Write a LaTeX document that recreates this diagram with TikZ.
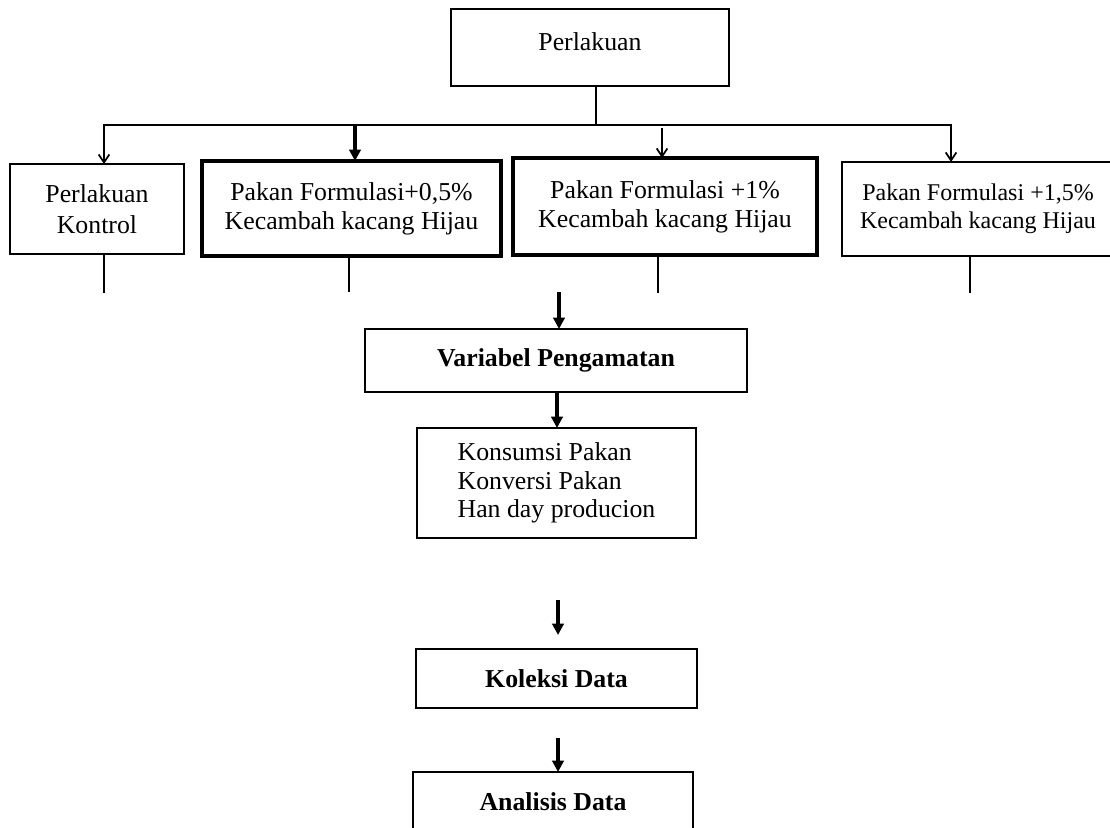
\documentclass[tikz,border=0pt]{standalone}
\usepackage{fontspec}
\setmainfont{Liberation Serif}
\usetikzlibrary{arrows.meta}
\tikzset{
  boxn/.style={draw, line width=1.4pt, inner sep=0pt, outer sep=0pt, align=center,
    font=\fontsize{19.35pt}{22pt}\selectfont},
  boldbox/.style={boxn, line width=3pt},
  conn/.style={line width=1.3pt},
  thinhead/.tip={Straight Barb[length=6pt,width=8pt,line width=1.3pt]},
  thinarrow/.style={conn, -thinhead},
  thickarrow/.style={line width=2.4pt, -{Triangle[length=8.5pt,width=8.5pt]}},
}
\begin{document}
\begin{tikzpicture}[x=0.75pt,y=-0.75pt]
  \fill[white] (0,0) rectangle (1110,828);
  \clip (0,0) rectangle (1110,828);

  % boxes
  \node[boxn, minimum width=208.5pt, minimum height=57.75pt, text height=13.5pt, text depth=9.75pt] (top) at (590,47.5) {Perlakuan};
  \node[boxn, minimum width=130.5pt, minimum height=67.5pt, font=\fontsize{19.35pt}{23pt}\selectfont] (b1) at (97,209) {Perlakuan\\Kontrol};
  \node[boldbox, minimum width=224.25pt, minimum height=71.25pt] (b2) at (351.5,208.5) {Pakan Formulasi+0,5\%\\Kecambah kacang Hijau};
  \node[boldbox, minimum width=228pt, minimum height=72.75pt] (b3) at (665,206.5) {Pakan Formulasi +1\%\\Kecambah kacang Hijau};
  \node[boxn, minimum width=204pt, minimum height=70.5pt, font=\fontsize{18pt}{21pt}\selectfont] (b4) at (978,209) {Pakan Formulasi +1,5\%\\Kecambah kacang Hijau};
  \node[boxn, minimum width=286.5pt, minimum height=47.25pt] (vp) at (556,360.5) {\textbf{Variabel Pengamatan}};
  \node[boxn, align=left, minimum width=209.25pt, minimum height=82.5pt, font=\fontsize{19.35pt}{21.3pt}\selectfont] (lst) at (556.5,483) {Konsumsi Pakan\\Konversi Pakan\\Han day producion};
  \node[boxn, minimum width=210.75pt, minimum height=44.25pt] (kol) at (556.5,678.5) {\textbf{Koleksi Data}};
  \node[boxn, minimum width=210pt, minimum height=44.25pt] (ana) at (553,801.5) {\textbf{Analisis Data}};

  % junction coordinates
  \coordinate (j) at (596,125);
  \coordinate (a1) at (104,125);
  \coordinate (a2) at (355,125);
  \coordinate (a3) at (662,128);
  \coordinate (a4) at (951,125);

  % tree connectors
  \draw[conn] (top.south -| j) -- (j);
  \draw[conn, thinhead-thinhead] (b1.north -| a1) -- (a1) -- (a4) -- (b4.north -| a4);
  \draw[thickarrow] (a2) -- (b2.north -| a2);
  \draw[thinarrow] (a3) -- (b3.north -| a3);

  % stubs below the treatment boxes
  \coordinate (e1) at (104,293);
  \coordinate (e2) at (349,292);
  \coordinate (e3) at (658,293);
  \coordinate (e4) at (970,293);
  \draw[conn] (b1.south -| e1) -- (e1);
  \draw[conn] (b2.south -| e2) -- (e2);
  \draw[conn] (b3.south -| e3) -- (e3);
  \draw[conn] (b4.south -| e4) -- (e4);

  % vertical flow
  \coordinate (v0) at (559,292);
  \draw[thickarrow] (v0) -- (v0 |- vp.north);
  \coordinate (v1) at (557,392);
  \draw[thickarrow] (v1 |- vp.south) -- (v1 |- lst.north);
  \coordinate (v2) at (558,600);
  \draw[thickarrow, shorten >=10.5pt] (v2) -- (v2 |- kol.north);
  \coordinate (v3) at (558,738);
  \draw[thickarrow] (v3) -- (v3 |- ana.north);
\end{tikzpicture}
\end{document}
